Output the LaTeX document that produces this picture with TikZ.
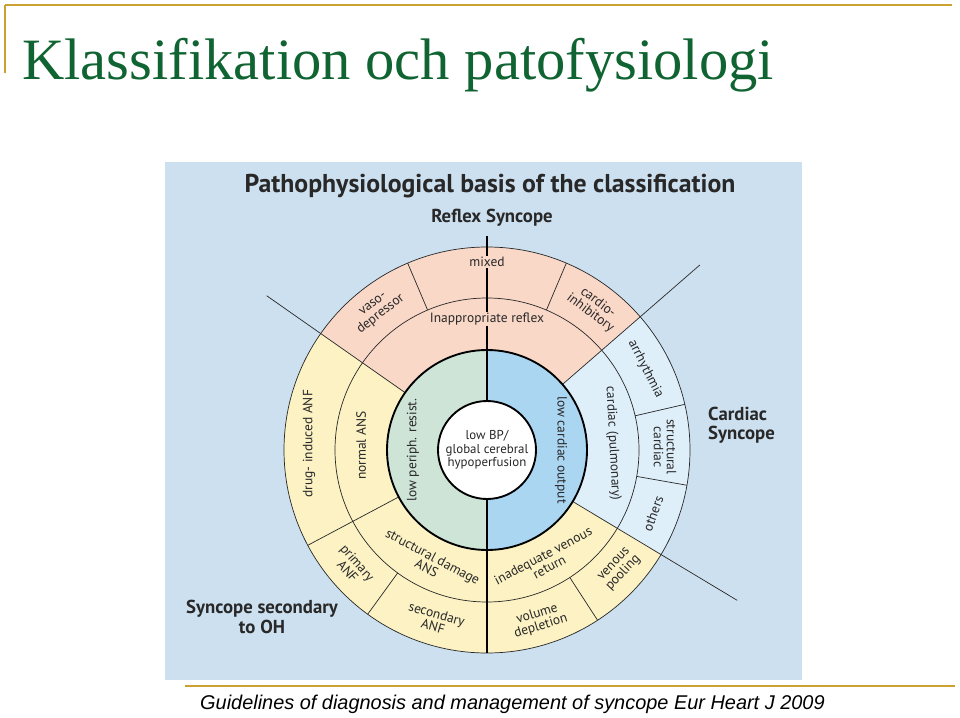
\documentclass[tikz,border=0pt]{standalone}
\usepackage{fontspec}
\setmainfont{Liberation Serif}
\newfontfamily\dsans{PT Sans}
\newfontfamily\isans{Liberation Sans}
\usetikzlibrary{calc}
\definecolor{gold}{RGB}{205,160,50}
\definecolor{ttl}{RGB}{16,100,50}
\definecolor{panel}{RGB}{205,224,240}
\definecolor{salm}{RGB}{250,216,200}
\definecolor{yel}{RGB}{252,242,196}
\definecolor{lbl}{RGB}{222,239,250}
\definecolor{grn}{RGB}{205,228,214}
\definecolor{blu}{RGB}{170,214,242}
\definecolor{txt}{RGB}{40,40,40}
\newcommand\ringsec[5]{\fill[#1] ($(C)+(#2:#5)$) arc[start angle=#2,end angle=#3,radius=#5] -- ($(C)+(#3:#4)$) arc[start angle=#3,end angle=#2,radius=#4] -- cycle;}
\newcommand\radl[3]{\draw[thin line] ($(C)+(#1:#2)$) -- ($(C)+(#1:#3)$);}
\tikzset{
 thin line/.style={draw=txt,line width=0.6pt},
 lab/.style={font=\dsans\fontsize{11.5}{11}\selectfont,text=txt,align=center,inner sep=1pt},
 big/.style={font=\dsans\bfseries\fontsize{16}{16.5}\selectfont,text=txt,align=left,inner sep=0pt},
}
\begin{document}
\begin{tikzpicture}[x=0.03cm,y=0.03cm]
\useasboundingbox (0,0) rectangle (960,717);
\fill[white] (0,0) rectangle (960,717);
% slide frame
\draw[gold,line width=2pt] (5,712) -- (952,712);
\draw[gold,line width=1.2pt] (5,712) -- (5,644);
\node[anchor=base west,text=ttl,font=\fontsize{50}{52}\selectfont,inner sep=0pt] (title) at (22,637) {Klassifikation och patofysiologi};
\draw[gold,line width=1.5pt] (185,31) -- (955,31);
\node[anchor=base west,font=\isans\itshape\fontsize{17}{18}\selectfont,inner sep=0pt] (cite) at (200,8) {Guidelines of diagnosis and management of syncope Eur Heart J 2009};
% panel
\fill[panel] (165,37) rectangle (802,555);
\node[font=\dsans\bfseries\fontsize{22}{23}\selectfont,text=txt] (ptitle) at (490,531) {Pathophysiological basis of the classification};
\coordinate (C) at (487,267);
% sectors
\ringsec{salm}{41}{145}{100}{203}
\ringsec{lbl}{-31}{41}{100}{203}
\ringsec{yel}{145}{329}{100}{203}
\ringsec{grn}{90}{270}{49}{100}
\ringsec{blu}{-90}{90}{49}{100}
% circles
\draw[thin line] (C) circle[radius=152];
\draw[thin line] (C) circle[radius=203];
% radial lines
\radl{145}{100}{269}
\radl{41}{100}{282}
\radl{-31}{100}{292}
\radl{208}{100}{203}
\radl{113}{152}{203}
\radl{67}{152}{203}
\radl{13}{152}{203}
\radl{-10}{152}{203}
\radl{234}{152}{203}
\radl{303}{152}{203}
% thick
\draw[line width=2.2pt] (487,481) -- (487,64);
\draw[line width=1.6pt] (C) circle[radius=100];
% labels
\node[big,anchor=center] (reflex) at (492,499) {Reflex Syncope};
\node[big,anchor=west] (cardiac) at (708,292) {Cardiac\\Syncope};
\node[big,align=center] (oh) at (262,100) {Syncope secondary\\to OH};
\node[lab,fill=salm] (mixed) at (487,455) {mixed};
\node[lab,fill=salm] (inapp) at (487,398) {Inappropriate reflex};
\node[lab,rotate=38] (vaso) at ($(C)+(128:178)$) {vaso-\\depressor};
\node[lab,rotate=-37] (cardio) at ($(C)+(53:178)$) {cardio-\\inhibitory};
\node[lab,rotate=-63] (arr) at ($(C)+(27:178)$) {arrhythmia};
\node[lab,rotate=-90] (struc) at ($(C)+(1:178)$) {structural\\cardiac};
\node[lab,rotate=70] (oth) at ($(C)+(-21:178)$) {others};
\node[lab,rotate=-87] (pulm) at ($(C)+(3:126)$) {cardiac (pulmonary)};
\node[lab,rotate=-90] (lco) at ($(C)+(0:74)$) {low cardiac output};
\node[lab,rotate=90] (lpr) at ($(C)+(180:74)$) {low periph. resist.};
\node[lab,rotate=90] (nans) at ($(C)+(178:126)$) {normal ANS};
\node[lab,rotate=90] (drug) at ($(C)+(178:178)$) {drug- induced ANF};
\node[lab,rotate=-28] (sdans) at ($(C)+(243:126)$) {structural damage\\ANS};
\node[lab,rotate=-49] (pans) at ($(C)+(221:178)$) {primary\\ANF};
\node[lab,rotate=-16] (sans) at ($(C)+(253:178)$) {secondary\\ANF};
\node[lab,fill=yel,rotate=28] (ivr) at ($(C)+(298:126)$) {inadequate venous\\return};
\node[lab,rotate=17] (vold) at ($(C)+(287:178)$) {volume\\depletion};
\node[lab,rotate=47] (vpool) at ($(C)+(318:178)$) {venous\\pooling};
% center
\draw[line width=1.6pt,fill=white] (C) circle[radius=49];
\node[lab,font=\dsans\fontsize{11}{11.5}\selectfont] (ctr) at (C) {low BP/\\global cerebral\\hypoperfusion};
\end{tikzpicture}
\end{document}
